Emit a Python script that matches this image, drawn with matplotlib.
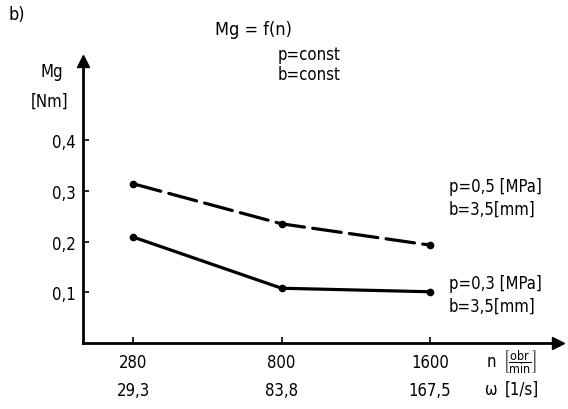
import matplotlib
matplotlib.use("Agg")
import matplotlib.pyplot as plt

n_labels = ["280", "800", "1600"]
omega_labels = ["29,3", "83,8", "167,5"]
y_ticks = [0.1, 0.2, 0.3, 0.4]
y_tick_labels = ["0,1", "0,2", "0,3", "0,4"]
mg_p05 = [0.314, 0.235, 0.193]
mg_p03 = [0.209, 0.108, 0.101]

plt.rcParams['font.family'] = ['DejaVu Sans']
plt.rcParams['font.stretch'] = 'condensed'
plt.rcParams['mathtext.fontset'] = 'dejavusans'

W, H = 568, 410
fig = plt.figure(figsize=(W / 100, H / 100), dpi=100)
ax = fig.add_axes([83 / W, 66 / H, 475 / W, 282 / H])

x = list(range(len(n_labels)))
ax.plot(x, mg_p05, color="black", lw=2.3, dashes=(9, 2.6), marker="o", ms=4.5,
        solid_capstyle="round", dash_capstyle="round")
ax.plot(x, mg_p03, color="black", lw=2.3, marker="o", ms=4.5, solid_capstyle="round")

ax.set_xlim(-0.337, 2.862)
ax.set_ylim(0, 0.556)

for s in ["top", "right"]:
    ax.spines[s].set_visible(False)
for s in ["left", "bottom"]:
    ax.spines[s].set_linewidth(2.0)

ax.plot(0, 1, marker="^", ms=8, color="black", transform=ax.transAxes, clip_on=False)
ax.plot(1, 0, marker=">", ms=8, color="black", transform=ax.transAxes, clip_on=False)

FS = 12
ax.set_yticks(y_ticks)
ax.set_yticklabels(y_tick_labels, fontsize=FS, fontstretch="condensed")
ax.set_xticks(x)
ax.set_xticklabels([])
ax.tick_params(axis="both", direction="in", length=4, width=1.2, pad=5)

for xi, a, b in zip(x, n_labels, omega_labels):
    ax.text(xi, -0.035, a, ha="center", va="top", fontsize=FS, transform=ax.get_xaxis_transform())
    ax.text(xi, -0.135, b, ha="center", va="top", fontsize=FS, transform=ax.get_xaxis_transform())

fig.text(487 / W, 1 - 362 / H, "n", fontsize=FS, va="center", ha="left")
fig.text(503 / W, 1 - 362 / H, r"$\left[\dfrac{\mathrm{obr}}{\mathrm{min}}\right]$", fontsize=9,
         va="center", ha="left")
fig.text(485 / W, 1 - 390 / H, "ω", fontsize=FS, va="center", ha="left")
fig.text(505 / W, 1 - 390 / H, "[1/s]", fontsize=FS, va="center", ha="left")

fig.text(8 / W, 1 - 15 / H, "b)", fontsize=13, va="center", ha="left")
fig.text(215 / W, 1 - 30 / H, "Mg = f(n)", fontsize=13, va="center", ha="left")
fig.text(278 / W, 1 - 55 / H, "p=const", fontsize=FS, va="center", ha="left")
fig.text(278 / W, 1 - 75 / H, "b=const", fontsize=FS, va="center", ha="left")
fig.text(52 / W, 1 - 72 / H, "Mg", fontsize=FS, va="center", ha="center")
fig.text(50 / W, 1 - 102 / H, "[Nm]", fontsize=FS, va="center", ha="center")

fig.text(449 / W, 1 - 187 / H, "p=0,5 [MPa]", fontsize=FS, va="center", ha="left")
fig.text(449 / W, 1 - 210 / H, "b=3,5[mm]", fontsize=FS, va="center", ha="left")
fig.text(449 / W, 1 - 284 / H, "p=0,3 [MPa]", fontsize=FS, va="center", ha="left")
fig.text(449 / W, 1 - 307 / H, "b=3,5[mm]", fontsize=FS, va="center", ha="left")

fig.savefig("out.png", dpi=100)
